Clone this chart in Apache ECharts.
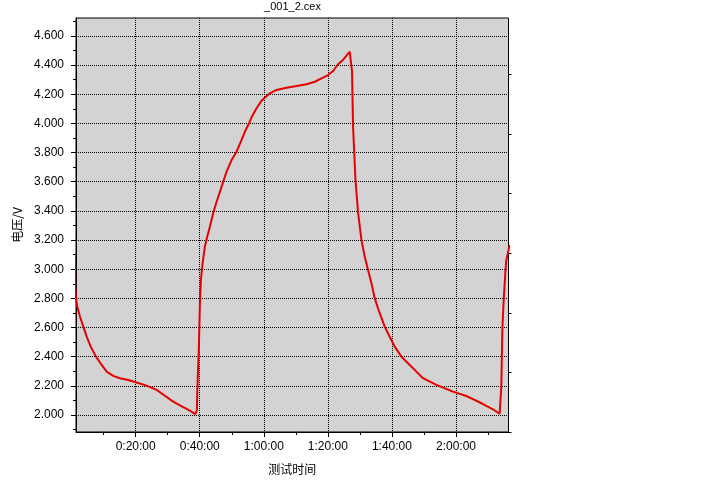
<!DOCTYPE html>
<html>
<head>
<meta charset="utf-8">
<script src="https://cdn.jsdelivr.net/npm/echarts@6/dist/echarts.min.js"></script>
<style>html,body{margin:0;padding:0;background:#fff;}#c{width:720px;height:480px;}</style>
</head>
<body>
<div id="c"></div>
<script>
// time in minutes, voltage in V
const timeMin = [1.05, 1.1, 1.37, 1.78, 2.62, 3.65, 4.71, 5.96, 7.61, 9.39, 10.95, 13.01, 15.10, 17.69, 20.0, 23.43, 26.54, 29.13, 31.72, 34.84, 36.93, 38.6,
  39.1, 39.25, 39.74, 40.05, 40.36, 40.89, 41.61, 42.33, 43.17, 44.20, 45.26, 46.51, 47.32, 48.38, 49.94, 51.50, 53.06, 54.09, 55.12, 56.18, 57.74, 59.30, 60.32, 61.88, 63.97, 67.09, 70.21, 73.33, 75.92, 78.01, 80.07, 81.63, 83.19, 84.75, 86.0, 86.84,
  87.15, 87.55, 87.87, 88.62, 89.43, 90.49, 91.51, 92.55, 93.61, 94.64, 96.19, 97.75, 99.31, 100.87, 102.96, 105.02, 107.64, 109.70, 113.88, 119.06, 123.24, 125.30, 128.42, 131.54, 133.62,
  133.94, 134.16, 134.47, 134.87, 135.40, 135.71, 136.21, 136.75];
const voltage = [3.11, 2.88, 2.80, 2.743, 2.674, 2.606, 2.537, 2.469, 2.40, 2.343, 2.297, 2.268, 2.252, 2.240, 2.224, 2.201, 2.172, 2.132, 2.091, 2.053, 2.029, 2.006,
  2.03, 2.172, 2.469, 2.766, 2.926, 3.04, 3.155, 3.223, 3.292, 3.384, 3.463, 3.544, 3.60, 3.669, 3.749, 3.806, 3.887, 3.943, 3.989, 4.042, 4.104, 4.156, 4.177, 4.207, 4.230, 4.245, 4.257, 4.269, 4.286, 4.309, 4.332, 4.36, 4.406, 4.436, 4.47, 4.492,
  4.48, 4.355, 3.978, 3.612, 3.39, 3.201, 3.086, 2.995, 2.903, 2.80, 2.698, 2.606, 2.537, 2.469, 2.40, 2.355, 2.297, 2.252, 2.206, 2.16, 2.130, 2.108, 2.075, 2.039, 2.008,
  2.02, 2.194, 2.583, 2.777, 2.972, 3.063, 3.109, 3.166];

const xMajorTicks = [20, 40, 60, 80, 100, 120];
const xMinorTicks = [10, 30, 50, 70, 90, 110, 130];
const yMajorTicks = [2.0, 2.2, 2.4, 2.6, 2.8, 3.0, 3.2, 3.4, 3.6, 3.8, 4.0, 4.2, 4.4, 4.6];
const yMinorTicks = [1.9, 2.1, 2.3, 2.5, 2.7, 2.9, 3.1, 3.3, 3.5, 3.7, 3.9, 4.1, 4.3, 4.5, 4.7];
const rightTicks = [0, 1, 2, 3, 4, 5, 6];

const titleText = '_001_2.cex';
const xName = '测试时间';
const yName = '电压/V';

const X_MIN = 1.37, X_MAX = 136.4;
const Y_MIN = 1.883, Y_MAX = 4.7235;

function fmtTime(m) {
  const s = Math.round(m * 60);
  const h = Math.floor(s / 3600);
  const mm = Math.floor((s % 3600) / 60);
  const ss = s % 60;
  return h + ':' + String(mm).padStart(2, '0') + ':' + String(ss).padStart(2, '0');
}

const seriesData = timeMin.map((t, i) => [t, voltage[i]]);
const labelFont = { fontFamily: 'Liberation Sans', fontSize: 12, color: '#000' };

const chart = echarts.init(document.getElementById('c'), null, { renderer: 'canvas' });
chart.setOption({
  animation: false,
  backgroundColor: '#fff',
  graphic: [{
    type: 'text',
    x: 292.5, y: 7,
    style: { text: titleText, textAlign: 'center', textVerticalAlign: 'middle', fontFamily: 'Liberation Sans', fontSize: 11, fill: '#000' }
  }],
  grid: {
    left: 76, top: 18, width: 432.5, height: 414,
    show: true, backgroundColor: '#d3d3d3', borderColor: '#000', borderWidth: 1
  },
  xAxis: [{
    type: 'value', min: X_MIN, max: X_MAX, position: 'bottom',
    name: xName, nameLocation: 'middle', nameGap: 31,
    nameTextStyle: { fontFamily: 'Noto Sans CJK SC', fontSize: 12, color: '#000' },
    axisLine: { show: true, lineStyle: { color: '#000', width: 1 } },
    axisTick: { show: true, customValues: xMajorTicks, length: 5, lineStyle: { color: '#000' } },
    axisLabel: { customValues: xMajorTicks, formatter: fmtTime, margin: 9, ...labelFont },
    splitLine: { show: true, lineStyle: { color: '#000', type: [1, 1], width: 1 } }
  }, {
    type: 'value', min: X_MIN, max: X_MAX, position: 'bottom',
    axisLine: { show: false },
    axisTick: { show: true, customValues: xMinorTicks, length: 3, lineStyle: { color: '#000' } },
    axisLabel: { show: false },
    splitLine: { show: false }
  }],
  yAxis: [{
    type: 'value', min: Y_MIN, max: Y_MAX, position: 'left',
    name: yName, nameLocation: 'middle', nameGap: 52, nameRotate: 90,
    nameTextStyle: { fontFamily: 'Noto Sans CJK SC', fontSize: 12, color: '#000' },
    axisLine: { show: true, lineStyle: { color: '#000', width: 1 } },
    axisTick: { show: true, customValues: yMajorTicks, length: 5, lineStyle: { color: '#000' } },
    axisLabel: { customValues: yMajorTicks, formatter: v => v.toFixed(3), margin: 12, ...labelFont },
    splitLine: { show: true, lineStyle: { color: '#000', type: [1, 1], width: 1 } }
  }, {
    type: 'value', min: Y_MIN, max: Y_MAX, position: 'left',
    axisLine: { show: false },
    axisTick: { show: true, customValues: yMinorTicks, length: 3, lineStyle: { color: '#000' } },
    axisLabel: { show: false },
    splitLine: { show: false }
  }, {
    type: 'value', min: 0, max: 6.95, position: 'right',
    axisLine: { show: false },
    axisTick: { show: true, customValues: rightTicks, length: 3, lineStyle: { color: '#000' } },
    axisLabel: { show: false },
    splitLine: { show: false }
  }],
  series: [{
    type: 'line',
    xAxisIndex: 0, yAxisIndex: 0,
    data: seriesData,
    showSymbol: false,
    symbol: 'none',
    clip: false,
    lineStyle: { color: '#e60000', width: 2 },
    z: 5
  }]
});
</script>
</body>
</html>
